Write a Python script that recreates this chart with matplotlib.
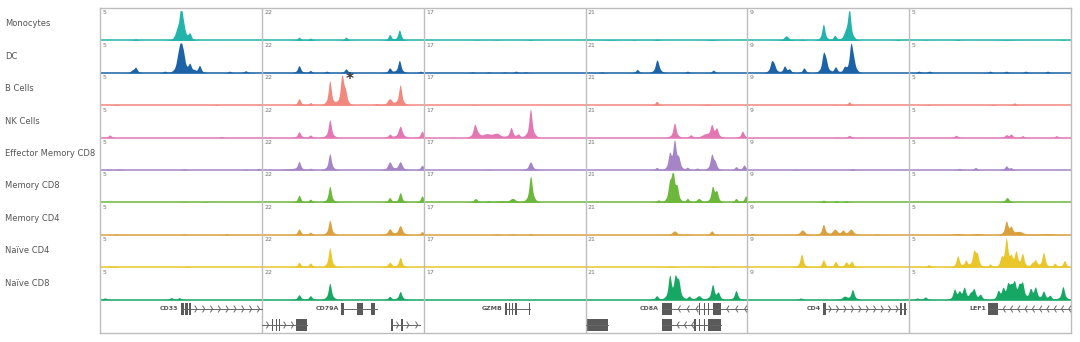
import numpy as np
import matplotlib
matplotlib.use("Agg")
import matplotlib.pyplot as plt
from matplotlib.patches import Rectangle

cell_types = ["Monocytes", "DC", "B Cells", "NK Cells", "Effector Memory CD8",
              "Memory CD8", "Memory CD4", "Naïve CD4", "Naïve CD8"]
colors = ["#22b3ab", "#1b62a6", "#f2877e", "#e377b4", "#a585c6",
          "#6cb83c", "#dba03e", "#e8c62c", "#16a764"]
genes = ["CD33", "CD79A", "GZMB", "CD8A", "CD4", "LEF1"]
scales = ["5", "22", "17", "21", "9", "5"]

# peaks per track: (position in locus 0-1, height 0-1[, width])
CD33_peaks = [
    [(0.22, 0.05), (0.48, 0.25, 0.012), (0.50, 0.85), (0.515, 0.3), (0.555, 0.2)],
    [(0.20, 0.06), (0.22, 0.16), (0.40, 0.05), (0.485, 0.45, 0.01), (0.50, 0.62),
     (0.515, 0.4), (0.555, 0.25), (0.58, 0.05), (0.615, 0.22), (0.80, 0.05), (0.90, 0.06, 0.01)],
    [(0.10, 0.03), (0.72, 0.03), (0.99, 0.03)],
    [(0.06, 0.08), (0.75, 0.03)],
    [(0.05, 0.03), (0.12, 0.04), (0.52, 0.04), (0.90, 0.03), (0.98, 0.05)],
    [(0.52, 0.02), (0.65, 0.02)],
    [(0.10, 0.03), (0.52, 0.03), (0.78, 0.04)],
    [(0.06, 0.03), (0.09, 0.03), (0.54, 0.03)],
    [(0.03, 0.05, 0.01), (0.44, 0.06), (0.49, 0.06)],
]
CD79A_peaks = [
    [(0.23, 0.1), (0.30, 0.07), (0.52, 0.1), (0.79, 0.18), (0.85, 0.32)],
    [(0.23, 0.22), (0.30, 0.07), (0.40, 0.05), (0.52, 0.12), (0.79, 0.15), (0.85, 0.38), (0.98, 0.05)],
    [(0.23, 0.2), (0.30, 0.08), (0.42, 0.75), (0.495, 0.88), (0.515, 0.35),
     (0.71, 0.05), (0.79, 0.2, 0.012), (0.855, 0.62)],
    [(0.23, 0.18), (0.30, 0.08), (0.42, 0.55), (0.79, 0.1), (0.855, 0.35, 0.01), (0.99, 0.2)],
    [(0.17, 0.04, 0.03), (0.23, 0.25), (0.30, 0.05), (0.42, 0.5), (0.79, 0.25, 0.01),
     (0.855, 0.25, 0.01), (0.99, 0.15)],
    [(0.23, 0.22), (0.30, 0.1), (0.42, 0.5), (0.79, 0.15), (0.855, 0.3), (0.99, 0.2)],
    [(0.23, 0.18), (0.30, 0.08), (0.42, 0.45), (0.79, 0.18, 0.01), (0.855, 0.28, 0.01), (0.99, 0.1)],
    [(0.23, 0.15), (0.30, 0.13), (0.42, 0.6), (0.79, 0.15, 0.01), (0.855, 0.3)],
    [(0.23, 0.15), (0.30, 0.12), (0.42, 0.5), (0.79, 0.1), (0.855, 0.25)],
]
GZMB_peaks = [
    [(0.33, 0.02), (0.45, 0.02), (0.66, 0.03)],
    [(0.30, 0.03), (0.40, 0.03), (0.50, 0.03), (0.57, 0.05), (0.63, 0.03)],
    [(0.31, 0.02)],
    [(0.315, 0.35), (0.33, 0.1, 0.01), (0.39, 0.1, 0.02), (0.45, 0.12, 0.02), (0.54, 0.3),
     (0.585, 0.1), (0.66, 0.88), (0.18, 0.02)],
    [(0.66, 0.25, 0.01), (0.40, 0.02)],
    [(0.32, 0.12, 0.01), (0.40, 0.05), (0.47, 0.05, 0.02), (0.55, 0.12, 0.015), (0.66, 0.75), (0.67, 0.1)],
    [(0.45, 0.03), (0.55, 0.03), (0.66, 0.04)],
    [],
    [],
]
CD8A_peaks = [
    [(0.15, 0.02, 0.03), (0.30, 0.02), (0.44, 0.04), (0.78, 0.03, 0.015)],
    [(0.10, 0.03), (0.32, 0.1), (0.44, 0.32), (0.45, 0.12), (0.63, 0.05), (0.79, 0.08)],
    [(0.44, 0.12), (0.75, 0.03, 0.015)],
    [(0.55, 0.45), (0.65, 0.08), (0.74, 0.1, 0.02), (0.78, 0.35), (0.81, 0.25), (0.97, 0.2)],
    [(0.44, 0.08), (0.52, 0.45), (0.55, 0.85), (0.575, 0.3), (0.63, 0.08), (0.69, 0.06),
     (0.78, 0.45), (0.80, 0.2), (0.93, 0.1), (0.98, 0.15)],
    [(0.45, 0.08), (0.52, 0.5), (0.54, 0.82), (0.565, 0.4), (0.63, 0.12), (0.70, 0.12, 0.012),
     (0.785, 0.45), (0.81, 0.3), (0.93, 0.12), (0.99, 0.2)],
    [(0.55, 0.12, 0.012), (0.63, 0.03), (0.78, 0.12)],
    [(0.53, 0.04), (0.79, 0.03)],
    [(0.44, 0.12), (0.52, 0.7), (0.555, 0.6), (0.575, 0.5), (0.64, 0.1), (0.70, 0.12, 0.012),
     (0.785, 0.45), (0.82, 0.2), (0.93, 0.28)],
]
CD4_peaks = [
    [(0.24, 0.14, 0.012), (0.34, 0.04), (0.47, 0.5), (0.54, 0.15), (0.61, 0.2, 0.012),
     (0.63, 0.88), (0.93, 0.03)],
    [(0.15, 0.3), (0.165, 0.2), (0.23, 0.2), (0.26, 0.1), (0.35, 0.15), (0.47, 0.52),
     (0.485, 0.3), (0.545, 0.18), (0.60, 0.15), (0.64, 0.8), (0.655, 0.3)],
    [(0.54, 0.02), (0.63, 0.1)],
    [(0.63, 0.07), (0.55, 0.02)],
    [(0.65, 0.04), (0.30, 0.02)],
    [(0.47, 0.07), (0.55, 0.05), (0.61, 0.05)],
    [(0.03, 0.04), (0.34, 0.15, 0.012), (0.47, 0.32), (0.54, 0.17, 0.012), (0.59, 0.12),
     (0.64, 0.17, 0.012), (0.80, 0.03)],
    [(0.335, 0.4), (0.47, 0.23), (0.545, 0.18), (0.61, 0.15), (0.645, 0.17)],
    [(0.33, 0.05), (0.60, 0.1, 0.012), (0.65, 0.3)],
]
LEF1_peaks = [
    [(0.10, 0.02), (0.30, 0.03), (0.60, 0.02, 0.03), (0.95, 0.02)],
    [(0.06, 0.05), (0.125, 0.05, 0.01), (0.50, 0.05), (0.60, 0.05), (0.72, 0.05), (0.855, 0.05)],
    [(0.12, 0.03), (0.52, 0.03), (0.65, 0.07)],
    [(0.29, 0.07), (0.60, 0.08), (0.63, 0.1), (0.70, 0.06), (0.91, 0.06)],
    [(0.31, 0.05), (0.41, 0.08), (0.60, 0.12), (0.63, 0.06)],
    [(0.605, 0.15, 0.01)],
    [(0.30, 0.04, 0.02), (0.42, 0.04, 0.02), (0.60, 0.4), (0.63, 0.2), (0.68, 0.1, 0.02),
     (0.85, 0.04, 0.03)],
    [(0.12, 0.08), (0.30, 0.35), (0.35, 0.2), (0.40, 0.45), (0.42, 0.35), (0.50, 0.1),
     (0.57, 0.25), (0.60, 0.85), (0.63, 0.25), (0.66, 0.45), (0.70, 0.4), (0.76, 0.1),
     (0.78, 0.2), (0.83, 0.45), (0.90, 0.12), (0.96, 0.2)],
    [(0.05, 0.05), (0.10, 0.08), (0.28, 0.3), (0.31, 0.2), (0.34, 0.35), (0.38, 0.15),
     (0.40, 0.3), (0.44, 0.15), (0.55, 0.25), (0.58, 0.3), (0.61, 0.4), (0.63, 0.3),
     (0.65, 0.45), (0.68, 0.35), (0.70, 0.45), (0.75, 0.3), (0.78, 0.35), (0.83, 0.25),
     (0.87, 0.12), (0.95, 0.4)],
]
loci = [CD33_peaks, CD79A_peaks, GZMB_peaks, CD8A_peaks, CD4_peaks, LEF1_peaks]

# gene models: (column, row, label, intron start, intron end, exons, strand)
gene_models = [
    (0, 0, "CD33", 0.50, 1.00, [(0.50, 0.52), (0.525, 0.545), (0.55, 0.565)], ">"),
    (1, 0, "CD79A", 0.49, 0.71, [(0.49, 0.51), (0.59, 0.625), (0.675, 0.70)], ""),
    (1, 1, "", 0.00, 0.28, [(0.06, 0.07), (0.085, 0.095), (0.105, 0.115), (0.21, 0.28)], ">"),
    (1, 1, "", 0.80, 0.98, [(0.80, 0.81), (0.86, 0.87)], ">"),
    (2, 0, "GZMB", 0.50, 0.66, [(0.50, 0.515), (0.525, 0.535), (0.545, 0.555),
                                (0.565, 0.575), (0.65, 0.66)], ""),
    (3, 0, "CD8A", 0.47, 1.00, [(0.47, 0.535), (0.70, 0.71), (0.73, 0.74), (0.755, 0.765),
                                (0.79, 0.835)], "<"),
    (3, 1, "", 0.47, 0.84, [(0.47, 0.535), (0.67, 0.68), (0.70, 0.71), (0.73, 0.74),
                            (0.76, 0.84)], "<"),
    (3, 1, "", 0.00, 0.14, [(0.00, 0.14)], ""),
    (4, 0, "CD4", 0.47, 0.98, [(0.47, 0.485), (0.945, 0.955), (0.97, 0.98)], ">"),
    (5, 0, "LEF1", 0.49, 1.00, [(0.49, 0.55)], "<"),
]

# layout in pixels of the 1080x342 canvas
top, bottom = 8, 333
track_h = 32.4

fig = plt.figure(figsize=(10.8, 3.42), dpi=100)
ax = fig.add_axes([100 / 1080, 1 - bottom / 342, 971 / 1080, (bottom - top) / 342])
ax.set_xlim(0, 6)
ax.set_ylim(bottom, top)
ax.set_xticks([])
ax.set_yticks([])
for s in ax.spines.values():
    s.set_color("#bdbdbd")
    s.set_linewidth(1)

xs = np.linspace(0, 1, 900)
for c, peaks_by_row in enumerate(loci):
    for r, peaks in enumerate(peaks_by_row):
        base = top + track_h * (r + 1)
        prof = np.zeros_like(xs)
        for p in peaks:
            w = p[2] if len(p) > 2 else 0.008
            prof += p[1] * (0.72 * np.exp(-0.5 * ((xs - p[0]) / w) ** 2)
                            + 0.28 * np.exp(-0.5 * ((xs - p[0]) / (2.8 * w)) ** 2))
        prof = np.clip(prof, 0, 0.92)
        ax.fill_between(c + xs, base, base - prof * track_h, color=colors[r], lw=0)
        ax.plot([c, c + 1], [base, base], color=colors[r], lw=1.3, alpha=0.85,
                solid_capstyle="butt")
        ax.text(c + 0.015, base - track_h + 2.5, scales[c], fontsize=4.5,
                color="#777777", va="top", ha="left")

for c in range(1, 6):
    ax.axvline(c, color="#bdbdbd", lw=1)

# gene annotation rows
row_y = [309, 325]
exon_h = 12
for c, row, label, a, b, exons, strand in gene_models:
    y = row_y[row]
    ax.plot([c + a, c + b], [y, y], color="#666666", lw=0.7)
    for e0, e1 in exons:
        ax.add_patch(Rectangle((c + e0, y - exon_h / 2), e1 - e0, exon_h,
                               facecolor="#5a5a5a", edgecolor="none"))
    if strand:
        gaps = zip([a] + [e1 for _, e1 in exons], [e0 for e0, _ in exons] + [b])
        for g0, g1 in gaps:
            n = int((g1 - g0) / 0.045)
            for k in range(n):
                xc = c + g0 + (k + 0.7) * (g1 - g0) / max(n, 1)
                d = 0.012 if strand == ">" else -0.012
                ax.plot([xc - d, xc, xc - d], [y - 3, y, y + 3], color="#666666", lw=0.7)
    if label:
        ax.text(c + a - 0.015, y, label, fontsize=4.5, fontweight="bold",
                color="#555555", ha="right", va="center")

ax.text(1.54, 80, "*", fontsize=11, fontweight="bold", color="#333333",
        ha="center", va="center")

for r, name in enumerate(cell_types):
    fig.text(5 / 1080, 1 - (top + track_h * r + 16) / 342, name, fontsize=6.0,
             color="#555555", ha="left", va="center")

fig.savefig("out.png", dpi=100)
